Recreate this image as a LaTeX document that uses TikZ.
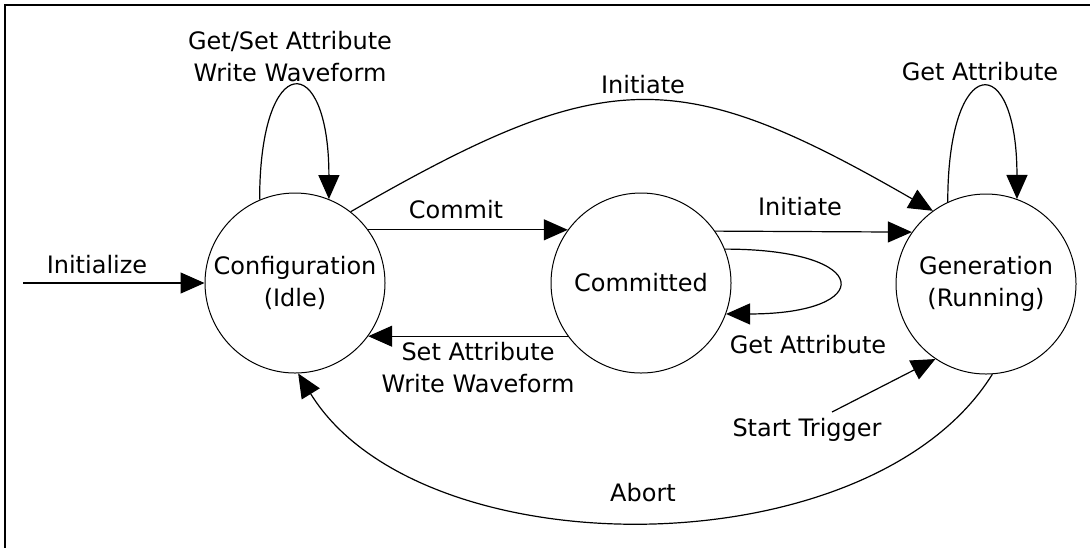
\documentclass[tikz,border=0pt]{standalone}
\usepackage{fontspec}
\setmainfont{DejaVu Sans}
\usetikzlibrary{arrows.meta}

\begin{document}
\begin{tikzpicture}[x=0.5pt,y=-0.5pt,
  every node/.style={font=\fontsize{12}{16}\selectfont},
  state/.style={draw, circle, minimum size=90pt, inner sep=0pt, align=center, line width=0.5pt},
  lbl/.style={align=center, inner sep=0pt},
  trans/.style={line width=0.6pt, -{Triangle[length=12pt,width=10.5pt]}}]

\useasboundingbox (0,0) rectangle (1090,548);
\draw[line width=1pt] (1090,5) -- (5,5) -- (5,548);

% states
\node[state] (cfg) at (295,283) {Configuration\\(Idle)};
\node[state] (cmt) at (641,283) {Committed};
\node[state] (gen) at (986,284) {Generation\\(Running)};

\coordinate (initStart) at (23,283);
\coordinate (trigStart) at (832,412);

% transitions
\draw[trans] (initStart) -- (cfg.west);
\draw[trans] (cfg.36) -- (cmt.144);
\draw[trans] (cmt.216) -- (cfg.-36);
\draw[trans] (cmt.35) -- (gen.145);
\draw[trans] (cfg.113) .. controls +(0,-150) and +(0,-150) .. (cfg.68);
\draw[trans] (gen.115) .. controls +(0,-150) and +(0,-150) .. (gen.70);
\draw[trans] (cmt.22) .. controls +(150,0) and +(150,0) .. (cmt.-20);
\draw[trans] (cfg.52) .. controls +(255,-147) and +(-255,-147) .. (gen.126);
\draw[trans] (trigStart) -- (gen.236);
\draw[trans] (gen.-86) .. controls +(-122,196) and +(122,198) .. (cfg.-88);

% labels
\node[lbl] (initLbl) at (97,265) {Initialize};
\node[lbl] (cfgLoopLbl) at (290,57) {Get/Set Attribute\\Write Waveform};
\node[lbl] (bigInitLbl) at (643,85) {Initiate};
\node[lbl] (commitLbl) at (456,210) {Commit};
\node[lbl] (initLbl2) at (800,207) {Initiate};
\node[lbl] (genLoopLbl) at (980,72) {Get Attribute};
\node[lbl] (cmtLoopLbl) at (808,345) {Get Attribute};
\node[lbl] (setLbl) at (478,368) {Set Attribute\\Write Waveform};
\node[lbl] (trigLbl) at (807,430) {Start Trigger};
\node[lbl] (abortLbl) at (643,493) {Abort};
\end{tikzpicture}
\end{document}
